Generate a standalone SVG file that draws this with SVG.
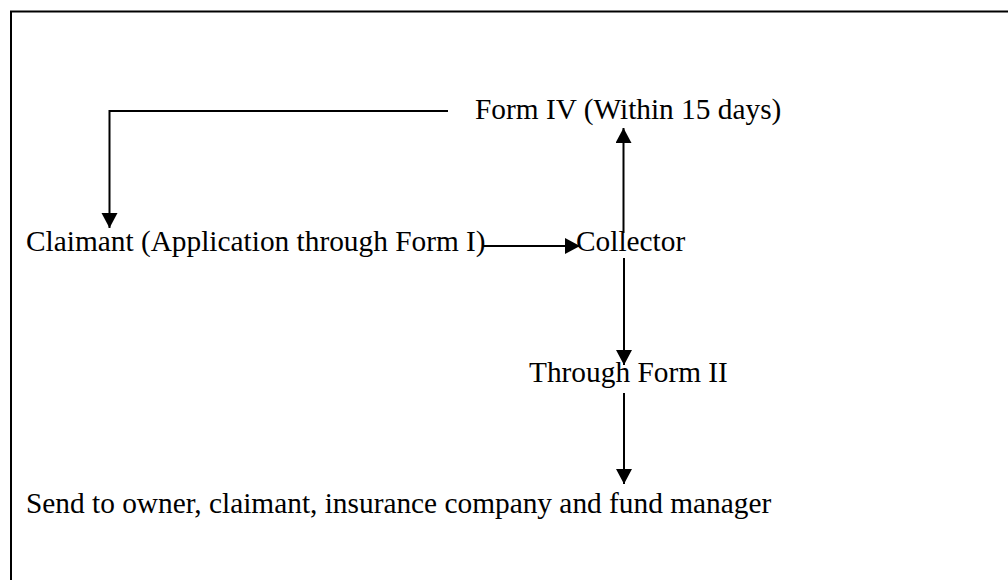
<svg xmlns="http://www.w3.org/2000/svg" width="1008" height="580" viewBox="0 0 1008 580">
<style>
.t{font-family:"Liberation Serif","Times New Roman",serif;font-size:29.35px;fill:#000}
.c{stroke:#000;stroke-width:2;fill:none}
</style>
<defs>
<marker id="ah" markerUnits="userSpaceOnUse" markerWidth="16" markerHeight="17" refX="15" refY="8" orient="auto" viewBox="0 0 16 17">
<path d="M0,0 L15,8 L0,16 Z" fill="#000"/>
</marker>
</defs>
<rect x="0" y="0" width="1008" height="580" fill="#fff"/>
<rect x="11" y="11.5" width="1100" height="700" fill="none" stroke="#000" stroke-width="2"/>
<g id="connectors">
<path class="c" d="M448,111 L109.5,111 L109.5,228" stroke-width="1.7" marker-end="url(#ah)"/>
<path class="c" d="M482,246 L580,246" marker-end="url(#ah)"/>
<path class="c" d="M623.5,233 L623.5,128" marker-end="url(#ah)"/>
<path class="c" d="M624,258 L624,365" marker-end="url(#ah)"/>
<path class="c" d="M624,393 L624,484" marker-end="url(#ah)"/>
</g>
<g id="form-iv"><text class="t" x="475" y="119">Form IV (Within 15 days)</text></g>
<g id="claimant"><text class="t" x="26" y="251">Claimant (Application through Form I)</text></g>
<g id="collector"><text class="t" x="576" y="251">Collector</text></g>
<g id="through-form-ii"><text class="t" x="529" y="382">Through Form II</text></g>
<g id="send"><text class="t" x="26" y="513">Send to owner, claimant, insurance company and fund manager</text></g>
</svg>
